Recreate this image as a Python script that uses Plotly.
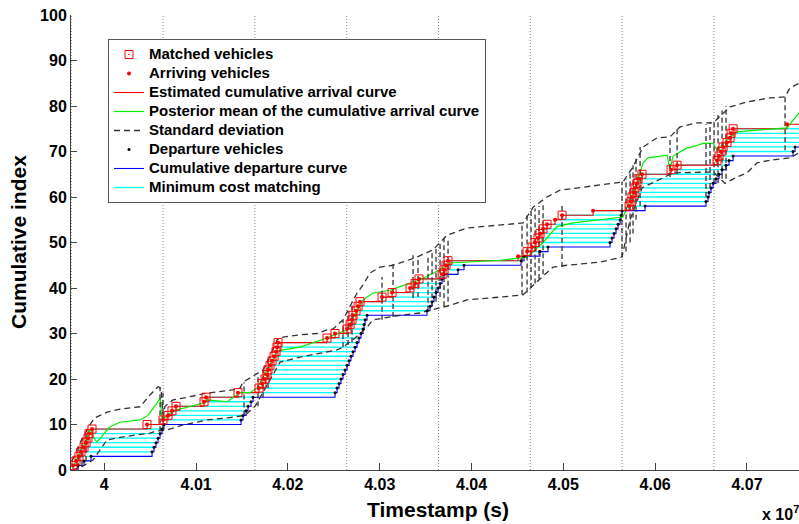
import plotly.graph_objects as go

# ---------------- data (timestamps in units of 1e7 s) ----------------
arrival_t = [3.99659, 3.99692, 3.99724, 3.99746, 3.99779, 3.99801, 3.99822, 3.99833, 3.99866,
             4.00465, 4.00639, 4.00694, 4.00737, 4.00781, 4.01086, 4.01108, 4.01456,
             4.01685, 4.01718, 4.01751, 4.01772, 4.01783, 4.01805, 4.01827, 4.01849, 4.01870, 4.01881, 4.01892,
             4.02426, 4.02513, 4.02644, 4.02677, 4.02698, 4.02709, 4.02742, 4.02764, 4.02785, 4.03025, 4.03134,
             4.03330, 4.03385, 4.03428, 4.03679, 4.03700, 4.03722, 4.03744,
             4.04507, 4.04605, 4.04659, 4.04692, 4.04724, 4.04746, 4.04779, 4.04822, 4.04910, 4.04986, 4.05324,
             4.05716, 4.05738, 4.05748, 4.05770, 4.05781, 4.05803, 4.05814, 4.05857, 4.06173, 4.06239,
             4.06674, 4.06696, 4.06718, 4.06740, 4.06783, 4.06816, 4.06827, 4.06849, 4.07437]

unmatched_idx = [47, 55, 57, 76]   # 1-based arrival indices without a match

departure_t = [3.99714, 3.99779, 3.99855,
               4.00520, 4.00541, 4.00563, 4.00585, 4.00607, 4.00629, 4.00650,
               4.01489, 4.01511, 4.01544, 4.01565, 4.01598, 4.01620,
               4.02513, 4.02535, 4.02557, 4.02578, 4.02600, 4.02622, 4.02644, 4.02666, 4.02687,
               4.02709, 4.02731, 4.02753, 4.02774, 4.02796, 4.02818, 4.02829, 4.02840, 4.02862,
               4.03515, 4.03548, 4.03570, 4.03591, 4.03613, 4.03635, 4.03657, 4.03679, 4.03700, 4.03853, 4.03918,
               4.04539, 4.04572, 4.04746, 4.04833,
               4.05509, 4.05530, 4.05552, 4.05574, 4.05596, 4.05618, 4.05629, 4.05639, 4.05890,
               4.06554, 4.06576, 4.06587, 4.06609, 4.06631, 4.06663, 4.06696, 4.06729, 4.06772, 4.06805, 4.06849,
               4.07502, 4.07524, 4.0762, 4.0765, 4.0768, 4.0771]

mean_t = [3.99648, 3.99692, 3.99735, 3.99790, 3.99822, 3.99844, 3.99899, 3.99920, 4.00062, 4.00171,
          4.00389, 4.00443, 4.00476, 4.00574, 4.00607, 4.00629, 4.00748, 4.00901, 4.01075, 4.01119,
          4.01337, 4.01446, 4.01478, 4.01587, 4.01663, 4.01772, 4.01881, 4.01914, 4.02132, 4.02426,
          4.02644, 4.02753, 4.02818, 4.02927, 4.03112, 4.03221, 4.03439, 4.03657, 4.03766, 4.04311,
          4.04605, 4.04779, 4.04931, 4.05106, 4.05400, 4.05650, 4.05727, 4.05814, 4.05868, 4.05923,
          4.06130, 4.06162, 4.06195, 4.06239, 4.06347, 4.06402, 4.06522, 4.06631, 4.06674, 4.06783,
          4.06892, 4.07110, 4.07437, 4.07469, 4.07568]
mean_v = [0.5, 2, 4, 6, 8, 9, 6.6, 6.2, 9.5, 10.5,
          11, 11.6, 12, 14.7, 15.8, 11, 13, 13.8, 14.7, 15.4,
          15, 16.5, 17, 17, 18, 22, 26, 26.3, 27, 29,
          30.8, 35, 37.4, 38.9, 39.5, 40.3, 41.8, 44, 45.5, 46.1,
          46.8, 50, 53.5, 54.3, 55, 55.6, 59.3, 63.7, 67.5, 68.6,
          69.2, 66, 69, 69.5, 70.8, 71, 71.8, 71.8, 70.3, 72.5,
          74.3, 74.7, 75.2, 76, 78.5]

upper_t = [3.99648, 3.99692, 3.99735, 3.99790, 3.99844, 3.99899, 4.00029, 4.00171, 4.00389, 4.00498,
           4.00585, 4.00618, 4.00639, 4.00661, 4.00748, 4.00857, 4.01119, 4.01402, 4.01478, 4.01511,
           4.01729, 4.01805, 4.01881, 4.01947, 4.02132, 4.02317, 4.02426, 4.02491, 4.02600, 4.02677,
           4.02753, 4.02818, 4.02894, 4.03003, 4.03145, 4.03221, 4.03406, 4.03581, 4.03733, 4.03951,
           4.04311, 4.04561, 4.04674, 4.04822, 4.04964, 4.05149, 4.05400, 4.05650, 4.05759, 4.05868,
           4.06021, 4.06162, 4.06271, 4.06456, 4.06631, 4.06816, 4.07001, 4.07252, 4.07415, 4.07469,
           4.07568]
upper_v = [2, 4, 6, 8, 10, 11.5, 12.7, 13.4, 13.9, 16.5,
           18.3, 18, 12, 14, 15.4, 15.8, 16.9, 17.6, 18, 19.3,
           22, 25, 28.6, 29.2, 29.7, 30, 30.8, 31, 33, 36,
           38.9, 40.7, 43.3, 44.6, 45, 45.5, 46.8, 48.4, 51.6, 53.2,
           53.8, 54.3, 57.8, 60, 61.5, 62, 62.6, 63.3, 66.6, 71,
           73, 73.2, 75.4, 76.3, 76.3, 79.8, 80.9, 81.8, 82, 84,
           85]

lower_t = [3.99648, 3.99735, 3.99877, 4.00029, 4.00204, 4.00389, 4.00498, 4.00552, 4.00683, 4.00857,
           4.01119, 4.01402, 4.01533, 4.01642, 4.01751, 4.01859, 4.01914, 4.02132, 4.02382, 4.02535,
           4.02600, 4.02731, 4.02862, 4.02927, 4.03221, 4.03439, 4.03766, 4.03951, 4.04311, 4.04561,
           4.04801, 4.04888, 4.05040, 4.05258, 4.05400, 4.05639, 4.05727, 4.05857, 4.06195, 4.06631,
           4.06761, 4.06892, 4.07001, 4.07110, 4.07252, 4.07469, 4.07568]
lower_v = [0, 0.5, 2.2, 6.6, 7.3, 7.7, 8.1, 8.5, 8.8, 9.9,
           11, 11.6, 12, 14, 18, 22, 23.7, 24.8, 25.7, 26.4,
           27, 29, 31.4, 33, 34, 34.5, 36.2, 37.4, 38, 38.5,
           43, 44.6, 45, 45.5, 45.7, 46.8, 55, 62, 65.3, 65.5,
           63, 64.4, 65.3, 67.5, 68.1, 68.6, 69.7]

# spikes of the standard-deviation band at arrival bursts
spike_t = [3.99714, 3.99757, 3.99801, 4.00607, 4.00639,
           4.01522, 4.01674, 4.01729, 4.01783,
           4.02600, 4.02655, 4.02698, 4.03025, 4.03145,
           4.03363, 4.03417, 4.03526, 4.03570, 4.03613, 4.03657, 4.03700, 4.03744,
           4.04550, 4.04605, 4.04648, 4.04692, 4.04735, 4.04779, 4.04986,
           4.05639, 4.05683, 4.05727, 4.05759, 4.05792, 4.05836,
           4.06162, 4.06239,
           4.06554, 4.06598, 4.06642, 4.06685, 4.06729, 4.06772, 4.07415]
spike_lo = [0.5, 1, 2, 8.5, 9,
            12, 14, 16, 18,
            27, 27.5, 28, 33, 33.6,
            37.8, 38, 35, 36, 37, 38, 36, 37,
            38.5, 39, 40, 41, 42, 43, 44.6,
            46.8, 48, 50, 52, 55, 58,
            64.4, 65,
            60, 62, 63, 63, 64, 64, 70.3]
spike_hi = [5, 7, 8, 18, 17,
            19.3, 21, 22, 25,
            33, 35, 37, 42.4, 45.5,
            47.2, 47, 47, 48, 49, 50, 51, 51,
            54, 56, 57, 57.5, 58, 58.5, 58.7,
            63.3, 64, 66, 67, 69, 71,
            73.2, 75,
            76, 76.5, 77, 78, 79, 80, 82]

period_lines = [3.9964, 4.0064, 4.0164, 4.0264, 4.0364, 4.0464, 4.0564, 4.0664]
x_ticks = [4.0, 4.01, 4.02, 4.03, 4.04, 4.05, 4.06, 4.07]
x_tick_text = ["4", "4.01", "4.02", "4.03", "4.04", "4.05", "4.06", "4.07"]
y_ticks = [0, 10, 20, 30, 40, 50, 60, 70, 80, 90, 100]
x_range = [3.99637, 4.07567]
y_range = [0, 100]

# ---------------- figure ----------------
FONT = "Liberation Sans, Arial, Helvetica, sans-serif"
fig = go.Figure()


def lname(s):
    return '<span style="font-size:15px">' + s + '</span>'


# period separators
for xv in period_lines:
    fig.add_shape(type="line", xref="x", yref="paper", x0=xv, x1=xv, y0=0, y1=1,
                  line=dict(color="#8a8a8a", width=1, dash="1px,2px"), layer="below")

# minimum cost matching
n_match = min(len(arrival_t), len(departure_t))
mx, my = [], []
for i in range(n_match):
    mx += [arrival_t[i], departure_t[i], None]
    my += [i + 1, i + 1, None]
fig.add_trace(go.Scatter(x=mx, y=my, mode="lines", line=dict(color="#00FFFF", width=1.3),
                         name=lname("Minimum cost matching"), legendrank=8))

# departure curve
dep_y = list(range(1, len(departure_t) + 1))
fig.add_trace(go.Scatter(x=[departure_t[0]] + departure_t, y=[0] + dep_y, mode="lines",
                         line=dict(color="#0000FF", width=1.1, shape="hv"),
                         name=lname("Cumulative departure curve"), legendrank=7))

# estimated arrival curve
arr_y = list(range(1, len(arrival_t) + 1))
fig.add_trace(go.Scatter(x=[arrival_t[0]] + arrival_t + [x_range[1]],
                         y=[0] + arr_y + [arr_y[-1]], mode="lines",
                         line=dict(color="#FF0000", width=1.1, shape="hv"),
                         name=lname("Estimated cumulative arrival curve"), legendrank=3))

# posterior mean
fig.add_trace(go.Scatter(x=mean_t, y=mean_v, mode="lines", line=dict(color="#00EE00", width=1.2),
                         name=lname("Posterior mean of the cumulative arrival curve"), legendrank=4))

# standard deviation
dash_style = dict(color="#333333", width=1.3, dash="6px,4px")
fig.add_trace(go.Scatter(x=upper_t, y=upper_v, mode="lines", line=dash_style,
                         name=lname("Standard deviation"), legendgroup="sd", legendrank=5))
fig.add_trace(go.Scatter(x=lower_t, y=lower_v, mode="lines", line=dash_style,
                         name="Standard deviation", legendgroup="sd", showlegend=False))
sx, sy = [], []
for t, lo, hi in zip(spike_t, spike_lo, spike_hi):
    sx += [t, t, None]
    sy += [lo, hi, None]
fig.add_trace(go.Scatter(x=sx, y=sy, mode="lines", line=dict(color="#333333", width=1.3, dash="5px,3px"),
                         name="Standard deviation", legendgroup="sd", showlegend=False))

# departure vehicles
fig.add_trace(go.Scatter(x=departure_t, y=dep_y, mode="markers",
                         marker=dict(color="black", size=3, symbol="circle"),
                         name=lname("Departure vehicles"), legendrank=6))

# arriving vehicles
fig.add_trace(go.Scatter(x=arrival_t, y=arr_y, mode="markers",
                         marker=dict(color="#FF0000", size=4, symbol="circle"),
                         name=lname("Arriving vehicles"), legendrank=2))

# matched vehicles
mt = [t for k, t in enumerate(arrival_t, start=1) if k not in unmatched_idx]
mv = [k for k, t in enumerate(arrival_t, start=1) if k not in unmatched_idx]
fig.add_trace(go.Scatter(x=mt, y=mv, mode="markers",
                         marker=dict(color="#FF0000", size=8, symbol="square-open-dot",
                                     line=dict(color="#FF0000", width=1)),
                         name=lname("Matched vehicles"), legendrank=1))

L, R, T, B = 71, 0, 15, 54
W, H = 799, 524
pw, ph = W - L - R, H - T - B


def px_x(p):
    return (p - L) / pw


def px_y(p):
    return (H - B - p) / ph


fig.update_layout(
    width=W, height=H,
    margin=dict(l=L, r=R, t=T, b=B, pad=0),
    paper_bgcolor="white", plot_bgcolor="white",
    font=dict(family=FONT, color="black"),
    showlegend=True,
    legend=dict(x=px_x(108), y=px_y(39), xanchor="left", yanchor="top",
                bgcolor="white", bordercolor="#555555", borderwidth=1,
                font=dict(family=FONT, size=12, color="black", weight="bold"),
                tracegroupgap=0, itemwidth=30),
    xaxis=dict(range=x_range, tickvals=x_ticks, ticktext=x_tick_text,
               ticks="inside", ticklen=7, tickcolor="#444444",
               showline=True, linecolor="#444444", linewidth=1, mirror=False,
               showgrid=False, zeroline=False,
               tickfont=dict(family=FONT, size=16, color="black", weight="bold")),
    yaxis=dict(range=y_range, tickvals=y_ticks,
               ticks="inside", ticklen=6, tickcolor="#444444",
               showline=True, linecolor="#444444", linewidth=1, mirror=False,
               showgrid=False, zeroline=False,
               tickfont=dict(family=FONT, size=16, color="black", weight="bold")),
    annotations=[
        dict(text="Cumulative index", xref="paper", yref="paper", x=px_x(18), y=px_y(242),
             textangle=-90, showarrow=False, xanchor="center", yanchor="middle",
             font=dict(family=FONT, size=21, color="black", weight="bold")),
        dict(text="Timestamp (s)", xref="paper", yref="paper", x=px_x(438), y=px_y(510),
             showarrow=False, xanchor="center", yanchor="middle",
             font=dict(family=FONT, size=21, color="black", weight="bold")),
        dict(text="x 10<sup>7</sup>", xref="paper", yref="paper", x=px_x(760), y=px_y(513),
             showarrow=False, xanchor="left", yanchor="middle",
             font=dict(family=FONT, size=16, color="black", weight="bold")),
    ],
)

fig.write_html("out.html", config={"displayModeBar": False},
               post_script="document.body.style.margin='0';document.body.style.overflow='hidden';")
